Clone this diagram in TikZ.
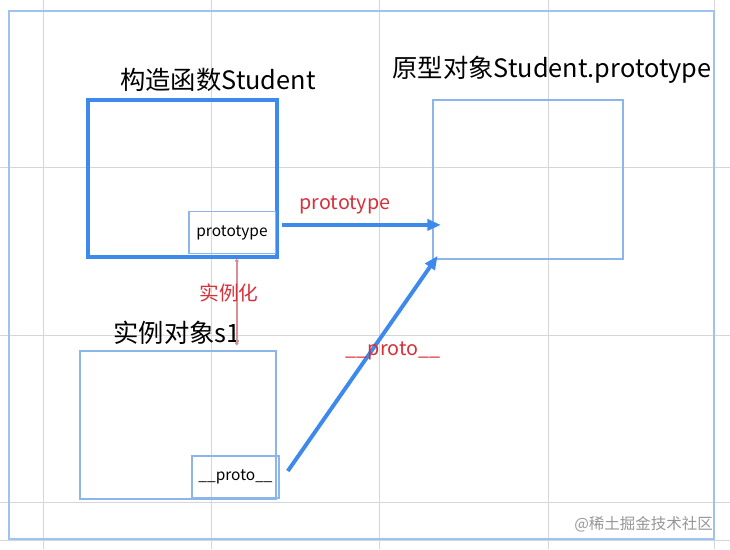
\documentclass[tikz,border=0pt]{standalone}
\usepackage{fontspec}
\newfontfamily\cjk{Noto Sans CJK SC}
\usetikzlibrary{arrows.meta}
\definecolor{boxblue}{RGB}{61,138,236}
\definecolor{lineblue}{RGB}{140,182,234}
\definecolor{frameblue}{RGB}{160,194,240}
\definecolor{gridgray}{RGB}{214,214,218}
\definecolor{labred}{RGB}{214,48,58}
\definecolor{instpink}{RGB}{218,142,152}
\definecolor{markgray}{RGB}{150,150,150}

\begin{document}
\begin{tikzpicture}[
      x=0.025cm, y=-0.025cm,
      title/.style={font=\cjk\fontsize{18}{21}\selectfont, inner sep=0pt},
      redlab/.style={font=\cjk\fontsize{14}{16}\selectfont, text=labred, inner sep=0pt},
      thickbox/.style={draw=boxblue, line width=3pt, minimum width=4.72cm,
      minimum height=3.92cm},
      thinbox/.style={draw=lineblue, line width=1.3pt},
      slot/.style={draw=lineblue, line width=1.3pt, minimum width=2.17cm,
      minimum height=1.05cm, font=\cjk\fontsize{11}{13}\selectfont},
      link/.style={-{Triangle[length=3.4mm, width=2.8mm]}, draw=boxblue, line width=2.8pt},
      inst/.style={{Circle[length=2.4pt]}-{Circle[length=2.4pt]}, draw=instpink, line width=1.2pt}
    ]
    \useasboundingbox (0,0) rectangle (730,549);
    % background grid and frame
    \foreach \gx in {43,211,379,548,714}
      \draw[gridgray, line width=0.5pt] (\gx,0) -- (\gx,549);
    \foreach \gy in {167,335,502,540}
      \draw[gridgray, line width=0.5pt] (0,\gy) -- (730,\gy);
    \draw[frameblue, line width=1.4pt] (9,11) rectangle (714,539);

    % constructor
    \node[thickbox] (ctor) at (182.5,178.5) {};
    \node[title] (ctortitle) at (218,80) {构造函数Student};
    \node[slot] (pin) at (232,232.5) {prototype};

    % prototype object
    \node[thinbox, minimum width=4.75cm, minimum height=3.97cm] (obj) at (528,179.5) {};
    \node[title] (objtitle) at (552,70) {原型对象Student.prototype};

    % instance
    \node[thinbox, minimum width=4.9cm, minimum height=3.7cm] (s1) at (178,425) {};
    \node[title] (s1title) at (177,333) {实例对象s1};
    \node[slot] (pout) at (235.5,477) {\_\_proto\_\_};

    % connectors
    \coordinate (objhit) at ([xshift=0.22cm]obj.west |- pin.east);
    \coordinate (objlow) at ([xshift=0.14cm, yshift=0.1cm]obj.south west);
    \draw[link] ([xshift=0.15cm, yshift=0.19cm]pin.east) -- ([yshift=0.19cm]objhit);
    \draw[link] ([xshift=0.2cm, yshift=0.15cm]pout.east) -- (objlow);
    \draw[inst] ([xshift=0.12cm, yshift=-0.12cm]pin.south) -- ([xshift=0.12cm]pin.south |- s1title.south);

    % labels
    \node[redlab] (protolab) at (345,205) {prototype};
    \node[redlab] (instlab) at (229,293) {实例化};
    \node[redlab] (pprotolab) at (393,351) {\_\_proto\_\_};
    \node[font=\cjk\fontsize{11}{13}\selectfont, text=markgray, inner sep=0pt,
      anchor=east] (mark) at (713,524) {@稀土掘金技术社区};
  \end{tikzpicture}
\end{document}
